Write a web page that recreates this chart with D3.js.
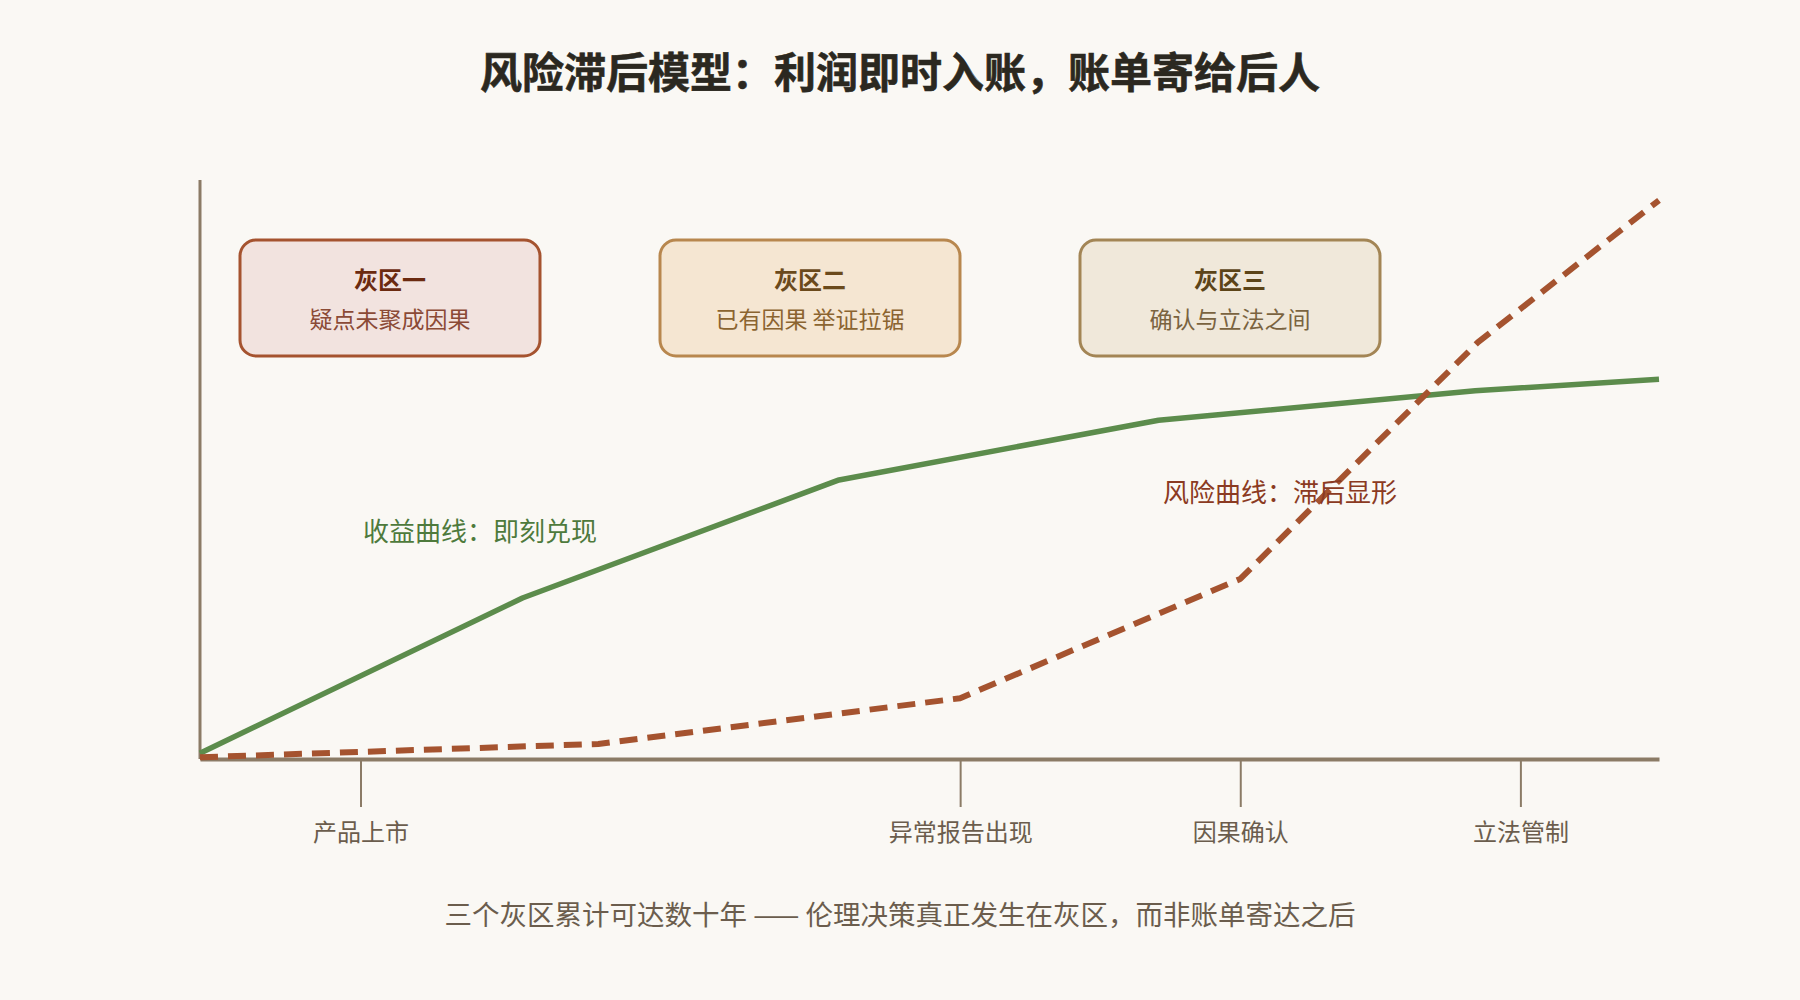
<!DOCTYPE html>
<html>
<head>
<meta charset="utf-8">
<script src="https://cdn.jsdelivr.net/npm/d3@7"></script>
<style>
  html, body { margin: 0; padding: 0; background: #faf8f4; }
  svg { display: block; font-family: "Noto Sans CJK SC", "Noto Sans", sans-serif; }
</style>
</head>
<body>
<svg id="chart" width="1800" height="1000"></svg>
<script>
// ---- data ----
const titleText = "风险滞后模型：利润即时入账，账单寄给后人";
const footerText = "三个灰区累计可达数十年 —— 伦理决策真正发生在灰区，而非账单寄达之后";

const milestoneLabels = ["产品上市", "异常报告出现", "因果确认", "立法管制"];
const milestonePos    = [11, 52.1, 71.3, 90.5];

const gainX = [0, 22.1, 43.8, 65.7, 87.4, 100];
const gainY = [1, 27.8, 48.2, 58.5, 63.6, 65.6];

const riskX = [0, 27.3, 52.1, 71.3, 87.6, 100];
const riskY = [0.3, 2.6, 10.5, 31.1, 72.0, 96.5];

const zoneTitles = ["灰区一", "灰区二", "灰区三"];
const zoneSubs   = ["疑点未聚成因果", "已有因果 举证拉锯", "确认与立法之间"];

const gainLabel = "收益曲线：即刻兑现";
const riskLabel = "风险曲线：滞后显形";

// ---- layout ----
const svg = d3.select("#chart");
const x = d3.scaleLinear().domain([0, 100]).range([200, 1659]);
const y = d3.scaleLinear().domain([0, 100]).range([759, 180]);

const axisColor = "#8b7b66";
const green = "#5c8c4c";
const rust = "#a5532f";

// title
svg.append("text")
  .attr("x", 900).attr("y", 69)
  .attr("text-anchor", "middle").attr("dominant-baseline", "central")
  .attr("font-size", 42).attr("font-weight", 700).attr("fill", "#2b2820")
  .attr("stroke", "#2b2820").attr("stroke-width", 0.6)
  .text(titleText);

// zone boxes
const zoneStyle = [
  {fill: "#f2e3df", stroke: "#a5532f", t: "#6b2a10", s: "#8b4a36"},
  {fill: "#f5e6d2", stroke: "#b8874e", t: "#6b4a1c", s: "#8b6430"},
  {fill: "#f0e8da", stroke: "#a38555", t: "#5c4418", s: "#7a6340"}
];
const zones = svg.append("g").selectAll("g").data(zoneTitles).join("g")
  .attr("transform", (d, i) => `translate(${240 + i * 420},240)`);
zones.append("rect")
  .attr("width", 300).attr("height", 116).attr("rx", 16)
  .attr("fill", (d, i) => zoneStyle[i].fill)
  .attr("stroke", (d, i) => zoneStyle[i].stroke)
  .attr("stroke-width", 3);
zones.append("text")
  .attr("x", 150).attr("y", 38)
  .attr("text-anchor", "middle").attr("dominant-baseline", "central")
  .attr("font-size", 24).attr("font-weight", 700)
  .attr("fill", (d, i) => zoneStyle[i].t)
  .text(d => d);
zones.append("text")
  .attr("x", 150).attr("y", 78)
  .attr("text-anchor", "middle").attr("dominant-baseline", "central")
  .attr("font-size", 23)
  .attr("fill", (d, i) => zoneStyle[i].s)
  .text((d, i) => zoneSubs[i]);

// y axis (no ticks)
svg.append("line")
  .attr("x1", x(0)).attr("x2", x(0))
  .attr("y1", 180).attr("y2", y(0))
  .attr("stroke", axisColor).attr("stroke-width", 3);

// x axis
const xAxis = d3.axisBottom(x)
  .tickValues(milestonePos)
  .tickFormat((d, i) => milestoneLabels[i])
  .tickSize(48).tickSizeOuter(0).tickPadding(17);
const gx = svg.append("g").attr("transform", `translate(0,${y(0)})`).call(xAxis);
gx.select(".domain").attr("stroke", axisColor).attr("stroke-width", 4);
gx.selectAll(".tick line").attr("stroke", axisColor).attr("stroke-width", 2);
gx.selectAll(".tick text")
  .attr("font-size", 24).attr("fill", "#6b5d4d")
  .attr("font-family", "Noto Sans CJK SC");

// lines
const line = d3.line().x(d => x(d[0])).y(d => y(d[1])).curve(d3.curveLinear);
const gainData = gainX.map((v, i) => [v, gainY[i]]);
const riskData = riskX.map((v, i) => [v, riskY[i]]);

svg.append("path").datum(gainData)
  .attr("d", line).attr("fill", "none")
  .attr("stroke", green).attr("stroke-width", 5.5)
  .attr("stroke-linejoin", "round");

svg.append("path").datum(riskData)
  .attr("d", line).attr("fill", "none")
  .attr("stroke", rust).attr("stroke-width", 6)
  .attr("stroke-dasharray", "18 10")
  .attr("stroke-linejoin", "round");

// line labels
svg.append("text")
  .attr("x", 363).attr("y", 529)
  .attr("dominant-baseline", "central")
  .attr("font-size", 26).attr("fill", "#4e7a3c")
  .text(gainLabel);
svg.append("text")
  .attr("x", 1163).attr("y", 490)
  .attr("dominant-baseline", "central")
  .attr("font-size", 26).attr("fill", "#8b3a22")
  .text(riskLabel);

// footer
svg.append("text")
  .attr("x", 900).attr("y", 913)
  .attr("text-anchor", "middle").attr("dominant-baseline", "central")
  .attr("font-size", 27.5).attr("fill", "#6b5d4d")
  .text(footerText);
</script>
</body>
</html>
